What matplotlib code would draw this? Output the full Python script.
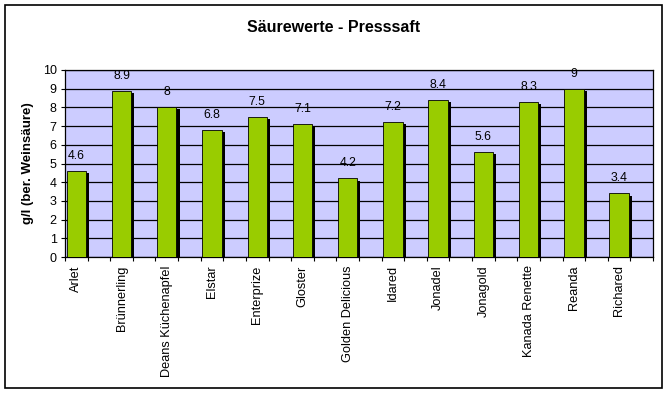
import numpy as np
import matplotlib
matplotlib.use("Agg")
import matplotlib.pyplot as plt
import matplotlib.patheffects as pe
from matplotlib.patches import Rectangle

sorten = ["Arlet", "Brünnerling", "Deans Küchenapfel", "Elstar", "Enterprize",
          "Gloster", "Golden Delicious", "Idared", "Jonadel", "Jonagold",
          "Kanada Renette", "Reanda", "Richared"]
saeure = [4.6, 8.9, 8, 6.8, 7.5, 7.1, 4.2, 7.2, 8.4, 5.6, 8.3, 9, 3.4]
werte_text = ["4.6", "8.9", "8", "6.8", "7.5", "7.1", "4.2", "7.2", "8.4", "5.6", "8.3", "9", "3.4"]

plt.rcParams['font.family'] = ['Liberation Sans', 'DejaVu Sans']

fig = plt.figure(figsize=(6.68, 3.94), dpi=100)
ax = fig.add_axes([65/668, 1-257/394, (653-65)/668, (257-70)/394])
ax.set_facecolor("#CCCCFF")

# Rahmen um das ganze Diagramm
fig.patches.append(Rectangle((5/668, 1-388/394), 657/668, 383/394,
                             transform=fig.transFigure, fill=False,
                             edgecolor="black", linewidth=1.2))

x = np.arange(len(sorten))
xpos = x + 0.035 + 0.215
bars = ax.bar(xpos, saeure, width=0.43, color="#99CC00", edgecolor="black",
              linewidth=0.6, zorder=3)
for b in bars:
    b.set_path_effects([pe.SimplePatchShadow(offset=(2.2, -1.5), shadow_rgbFace="black", alpha=1.0),
                        pe.Normal()])

for xp, v, t in zip(xpos, saeure, werte_text):
    ax.annotate(t, (xp, v), xytext=(0, 6.5), textcoords="offset points",
                ha="center", va="bottom", fontsize=8.8)

ax.set_xlim(0, 13)
ax.set_ylim(0, 10)
ax.set_yticks(range(0, 11))
ax.yaxis.grid(True, color="black", linewidth=0.9, zorder=0)
ax.set_axisbelow(True)

ax.set_xticks(np.arange(0, 13.01, 0.5))
ax.set_xticklabels([])
ax.set_xticks(xpos, minor=True)
ax.set_xticklabels(sorten, minor=True, rotation=90, fontsize=9.2, va="top")
ax.tick_params(axis="x", which="major", length=3, width=0.8, direction="out")
ax.tick_params(axis="x", which="minor", length=0, pad=6)
ax.tick_params(axis="y", length=3, width=0.8, pad=3, labelsize=9)

for s in ax.spines.values():
    s.set_linewidth(0.9)
    s.set_color("black")

ax.set_ylabel("g/l (ber. Weinsäure)", fontsize=9.5, fontweight="bold", labelpad=6)
fig.text(334/668, 1-27/394, "Säurewerte - Presssaft", ha="center", va="center",
         fontsize=11.5, fontweight="bold")

fig.savefig("out.png", dpi=100)
